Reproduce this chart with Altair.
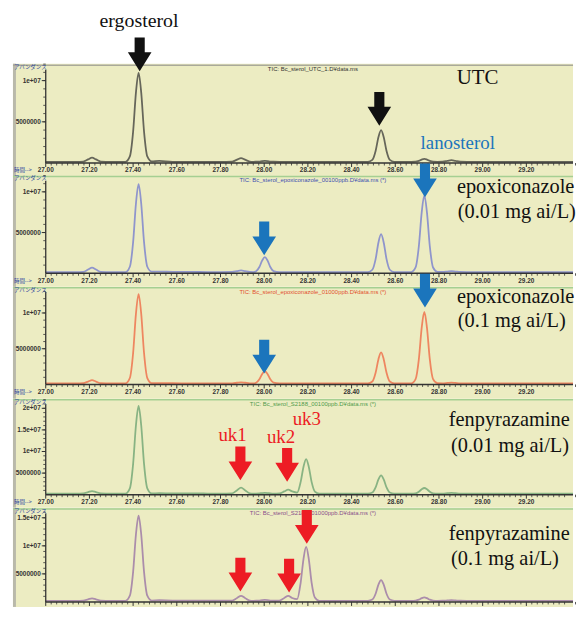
import altair as alt
import pandas as pd

# ---------------- data ----------------
# retention time (min) at which the five TIC traces were read
times = [27.00, 27.08, 27.14,
         27.172, 27.194, 27.212, 27.230, 27.252,
         27.30, 27.34,
         27.365, 27.385, 27.400, 27.413, 27.425, 27.437, 27.450, 27.465, 27.485,
         27.52, 27.58, 27.66, 27.74, 27.80,
         27.854, 27.876, 27.894, 27.912, 27.934,
         27.95,
         27.963, 27.978, 27.991, 28.003, 28.015, 28.028, 28.043,
         28.070, 28.092, 28.110, 28.128,
         28.151, 28.167, 28.180, 28.192, 28.204, 28.217, 28.232, 28.252,
         28.30, 28.38, 28.44,
         28.475, 28.495, 28.510, 28.523, 28.535, 28.547, 28.560, 28.575, 28.595,
         28.64,
         28.673, 28.693, 28.708, 28.721, 28.733, 28.745, 28.758, 28.773, 28.793,
         28.817, 28.839, 28.857, 28.875, 28.897,
         28.95, 29.05, 29.15, 29.25, 29.35, 29.44]

# abundance, millions of counts
utc = [.15, .15, .15,
       .18, .44, .65, .44, .18,
       .15, .15,
       .15, .80, 3.82, 8.57, 10.95, 8.57, 3.82, .80, .20,
       .25, .15, .15, .15, .15,
       .18, .41, .60, .41, .18,
       .15,
       .16, .18, .23, .25, .23, .18, .16,
       .15, .15, .15, .15,
       .15, .15, .15, .15, .15, .15, .15, .15,
       .15, .15, .15,
       .15, .38, 1.46, 3.15, 4.00, 3.15, 1.46, .38, .15,
       .15,
       .15, .17, .27, .42, .50, .42, .27, .17, .15,
       .16, .26, .35, .26, .16,
       .15, .15, .15, .15, .15, .15]

epoxi_001 = [.15, .15, .15,
             .18, .46, .70, .46, .18,
             .15, .15,
             .15, .80, 3.82, 8.57, 10.95, 8.57, 3.82, .80, .20,
             .20, .17, .16, .15, .15,
             .16, .26, .35, .26, .16,
             .15,
             .26, .77, 1.58, 1.98, 1.58, .77, .26,
             .15, .15, .15, .15,
             .15, .15, .15, .15, .15, .15, .15, .15,
             .15, .15, .15,
             .15, .43, 1.73, 3.78, 4.80, 3.78, 1.73, .43, .15,
             .15,
             .15, .71, 3.35, 7.48, 9.55, 7.48, 3.35, .71, .18,
             .16, .21, .25, .21, .16,
             .15, .15, .15, .15, .15, .15]

epoxi_01 = [.15, .15, .15,
            .18, .41, .60, .41, .18,
            .15, .15,
            .15, .90, 4.40, 9.90, 12.65, 9.90, 4.40, .90, .20,
            .20, .17, .16, .15, .15,
            .16, .24, .30, .24, .16,
            .15,
            .25, .73, 1.48, 1.85, 1.48, .73, .25,
            .15, .15, .15, .15,
            .15, .15, .15, .15, .15, .15, .15, .15,
            .15, .15, .15,
            .15, .41, 1.63, 3.54, 4.50, 3.54, 1.63, .41, .15,
            .15,
            .15, .75, 3.55, 7.95, 10.15, 7.95, 3.55, .75, .18,
            .16, .21, .25, .21, .16,
            .15, .15, .15, .15, .15, .15]

fenpy_001 = [.25, .25, .25,
             .29, .59, .85, .59, .29,
             .25, .25,
             .25, 1.47, 7.15, 16.08, 20.55, 16.08, 7.15, 1.47, .30,
             .35, .30, .30, .27, .27,
             .33, 1.05, 1.65, 1.05, .33,
             .25,
             .26, .30, .37, .40, .37, .30, .26,
             .30, .76, 1.15, .76,
             .50, 2.97, 6.49, 8.25, 6.49, 2.97, .73, .25,
             .25, .25, .25,
             .25, .50, 1.68, 3.53, 4.45, 3.53, 1.68, .50, .25,
             .25,
             .25, .33, .69, 1.26, 1.55, 1.26, .69, .33, .25,
             .26, .34, .40, .34, .26,
             .25, .25, .25, .25, .25, .25]

fenpy_01 = [.20, .20, .20,
            .23, .46, .65, .46, .23,
            .20, .20,
            .20, 1.11, 5.37, 12.06, 15.40, 12.06, 5.37, 1.11, .25,
            .30, .25, .25, .22, .22,
            .25, .71, 1.10, .71, .25,
            .20,
            .21, .25, .32, .35, .32, .25, .21,
            .25, .71, 1.10, .71,
            .50, 3.46, 7.69, 9.80, 7.69, 3.46, .78, .20,
            .20, .20, .20,
            .20, .42, 1.46, 3.09, 3.90, 3.09, 1.46, .42, .20,
            .20,
            .20, .24, .40, .67, .80, .67, .40, .24, .20,
            .21, .26, .30, .26, .21,
            .20, .20, .20, .20, .20, .20]

series = [utc, epoxi_001, epoxi_01, fenpy_001, fenpy_01]

tic_titles = ["TIC: Bc_sterol_UTC_1.D¥data.ms",
              "TIC: Bc_sterol_epoxiconazole_00100ppb.D¥data.ms (*)",
              "TIC: Bc_sterol_epoxiconazole_01000ppb.D¥data.ms (*)",
              "TIC: Bc_sterol_S2188_00100ppb.D¥data.ms (*)",
              "TIC: Bc_sterol_S2188_01000ppb.D¥data.ms (*)"]
tic_time = 28.223

# axis ticks and tick labels
x_major_ticks = [27.0, 27.2, 27.4, 27.6, 27.8, 28.0, 28.2, 28.4, 28.6, 28.8, 29.0, 29.2]
x_tick_labels = ["27.00", "27.20", "27.40", "27.60", "27.80", "28.00",
                 "28.20", "28.40", "28.60", "28.80", "29.00", "29.20"]
x_minor_ticks = [round(27.0 + 0.025 * i, 3) for i in range(1, 98) if i % 8]
y_major_ticks = [5e6, 1e7, 1.5e7, 2e7]
y_tick_labels = ["5000000", "1e+07", "1.5e+07", "2e+07"]
y_minor_step = 1e6

# arrows: panel, retention time, abundance (millions) of the arrow centre, colour
arrow_panel = [0, 0, 1, 1, 2, 2, 3, 3, 4, 4, 4]
arrow_time = [27.43, 28.527, 28.736, 28.0, 28.736, 28.0, 27.891, 28.105, 28.195, 27.891, 28.114]
arrow_value = [13.19, 6.57, 11.40, 4.27, 13.13, 3.89, 7.24, 6.90, 13.36, 4.87, 4.69]
arrow_color = ["#111111", "#111111", "#1b75bc", "#1b75bc", "#1b75bc", "#1b75bc",
               "#ed1c24", "#ed1c24", "#ed1c24", "#ed1c24", "#ed1c24"]

# centred labels
clabel_panel = [0, 0, 0, 3, 3, 3]
clabel_text = ["ergosterol", "UTC", "lanosterol", "uk1", "uk2", "uk3"]
clabel_time = [27.427, 28.977, 28.886, 27.855, 28.077, 28.195]
clabel_value = [17.23, 10.36, 2.41, 13.79, 13.33, 17.6]
clabel_color = ["#111111", "#111111", "#1b75bc", "#ed1c24", "#ed1c24", "#ed1c24"]
clabel_size = [20, 21, 19, 19, 19, 19]

# left-aligned treatment labels
llabel_panel = [1, 1, 2, 2, 3, 3, 4, 4]
llabel_text = ["epoxiconazole", "(0.01 mg ai/L)", "epoxiconazole", "(0.1 mg ai/L)",
               "fenpyrazamine", "(0.01 mg ai/L)", "fenpyrazamine", "(0.1 mg ai/L)"]
llabel_time = [28.882, 28.886, 28.882, 28.886, 28.845, 28.855, 28.845, 28.855]
llabel_value = [10.61, 7.56, 12.20, 8.85, 17.24, 11.26, 12.04, 7.61]

# ---------------- styling / layout ----------------
trace_colors = ["#66665a", "#8f95cc", "#ee8660", "#88b383", "#ab8dab"]
tic_colors = ["#333333", "#3c4fb0", "#e2502e", "#4f9a4a", "#8a4f8a"]
top_line_colors = ["#a9a99a", "#a5cf92", "#a5cf92", "#a5cf92", "#a5cf92"]
YELLOW = "#ececc2"
AXC = "#333333"
UI_BLUE = "#3048a0"
ARROW = "M-0.3,-1L0.3,-1L0.3,-0.12L0.7,-0.12L0,1L-0.7,-0.12L-0.3,-0.12Z"

W = 564
PX_PER_MIN = 220.0
X0 = 27.0 - 33 / PX_PER_MIN
X1 = X0 + W / PX_PER_MIN
header_h = 53
panel_h = [112, 112, 113, 110, 100]
base_px = [100, 99, 99, 97, 95]
px_per_m = [8.3, 8.2, 7.2, 4.35, 5.65]


def make_panel(k):
    ppm = px_per_m[k]
    top_m = base_px[k] / ppm
    bot_m = -(panel_h[k] - base_px[k]) / ppm
    xs = alt.Scale(domain=[X0, X1], nice=False, zero=False)
    ys = alt.Scale(domain=[bot_m * 1e6, top_m * 1e6], nice=False, zero=False)

    def XF(f):
        return alt.X(f, type="quantitative", scale=xs, axis=None)

    def YF(f):
        return alt.Y(f, type="quantitative", scale=ys, axis=None)

    def XD(v):
        return alt.XDatum(v, scale=xs, axis=None, type="quantitative")

    def YD(v):
        return alt.YDatum(v, scale=ys, axis=None, type="quantitative")

    def px(p):  # p pixels expressed in abundance units of this panel
        return p / ppm * 1e6

    trace = pd.DataFrame({"t": times, "v": [m * 1e6 for m in series[k]]})
    line = alt.Chart(trace).mark_line(color=trace_colors[k], strokeWidth=1.8,
                                      interpolate="monotone", clip=True).encode(
        x=XF("t"), y=YF("v"))

    one = pd.DataFrame({"a": [0]})
    y_rule = alt.Chart(one).mark_rule(color=AXC, strokeWidth=1.3).encode(
        x=XD(27.0), y=YD(0), y2=alt.Y2Datum(px(base_px[k] - 6)))
    x_rule = alt.Chart(one).mark_rule(color=AXC, strokeWidth=1.5).encode(
        x=XD(27.0), x2=alt.X2Datum(X1), y=YD(0))
    top_rule = alt.Chart(one).mark_rule(color=top_line_colors[k], strokeWidth=1.5).encode(
        x=XD(X0), x2=alt.X2Datum(X1), y=YD(px(base_px[k] - 1.5)))
    left_rule = alt.Chart(one).mark_rule(color="#b9b9aa", strokeWidth=3).encode(
        x=XD(X0 + 1.5 / PX_PER_MIN), y=YD(bot_m * 1e6), y2=alt.Y2Datum(top_m * 1e6))

    # x ticks
    xmaj = alt.Chart(pd.DataFrame({"t": x_major_ticks})).mark_rule(color=AXC, strokeWidth=1).encode(
        x=XF("t"), y=YD(0), y2=alt.Y2Datum(px(-4)))
    xmin = alt.Chart(pd.DataFrame({"t": x_minor_ticks})).mark_rule(color=AXC, strokeWidth=0.8).encode(
        x=XF("t"), y=YD(0), y2=alt.Y2Datum(px(-2.5)))
    # y ticks
    ymin_vals = [y_minor_step * i for i in range(1, int(top_m * 1e6 / y_minor_step) + 1)]
    ymaj_df = pd.DataFrame({"v": y_major_ticks, "lab": y_tick_labels})
    ymaj_df = ymaj_df[ymaj_df.v < top_m * 1e6 - px(3)]
    ymin_t = alt.Chart(pd.DataFrame({"v": ymin_vals})).mark_rule(color=AXC, strokeWidth=0.8).encode(
        x=XD(27.0 - 2.5 / PX_PER_MIN), x2=alt.X2Datum(27.0), y=YF("v"))
    ymaj_t = alt.Chart(ymaj_df).mark_rule(color=AXC, strokeWidth=1).encode(
        x=XD(27.0 - 4 / PX_PER_MIN), x2=alt.X2Datum(27.0), y=YF("v"))
    ylab = alt.Chart(ymaj_df).mark_text(font="Liberation Sans", fontSize=6.5, fontWeight="bold",
                                        align="right", baseline="middle", color=AXC).encode(
        x=XD(27.0 - 5 / PX_PER_MIN), y=YF("v"), text="lab:N")

    layers = [left_rule, top_rule, line, y_rule, x_rule, xmaj, xmin, ymin_t, ymaj_t, ylab]

    if k < 4:
        xlab = alt.Chart(pd.DataFrame({"t": x_major_ticks, "lab": x_tick_labels})).mark_text(
            font="Liberation Sans", fontSize=6.5, fontWeight="bold", align="center",
            baseline="middle", color=AXC).encode(
            x=XF("t"), y=YD(px(-7.5)), text="lab:N")
        layers.append(xlab)

    ui_rows = [{"t": X0 + 1 / PX_PER_MIN, "v": px(base_px[k] - 3.5), "s": "アバンダンス"}]
    if k < 4:
        ui_rows.append({"t": X0 + 1 / PX_PER_MIN, "v": px(-7.5), "s": "時間-->"})
    ui = alt.Chart(pd.DataFrame(ui_rows)).mark_text(
        font="Noto Sans CJK JP", fontSize=5.5, align="left", baseline="middle", color=UI_BLUE
    ).encode(x=XF("t"), y=YF("v"), text="s:N")

    tic = alt.Chart(pd.DataFrame({"t": [tic_time], "v": [px(base_px[k] - 5.5)],
                                  "s": [tic_titles[k]]})).mark_text(
        font="Liberation Sans", fontSize=6, align="center", baseline="middle", color=tic_colors[k]
    ).encode(x=XF("t"), y=YF("v"), text="s:N")
    layers += [ui, tic]

    arr = pd.DataFrame({"t": arrow_time, "v": [a * 1e6 for a in arrow_value],
                        "c": arrow_color, "p": arrow_panel})
    arr = arr[arr.p == k]
    if len(arr):
        layers.append(alt.Chart(arr).mark_point(shape=ARROW, size=1156, filled=True,
                                                opacity=1, strokeWidth=0).encode(
            x=XF("t"), y=YF("v"), color=alt.Color("c:N", scale=None)))

    cl = pd.DataFrame({"t": clabel_time, "v": [a * 1e6 for a in clabel_value], "s": clabel_text,
                       "c": clabel_color, "fs": clabel_size, "p": clabel_panel})
    cl = cl[cl.p == k]
    if len(cl):
        layers.append(alt.Chart(cl).mark_text(font="Liberation Serif", align="center",
                                              baseline="middle").encode(
            x=XF("t"), y=YF("v"), text="s:N", color=alt.Color("c:N", scale=None),
            size=alt.Size("fs:Q", scale=None)))

    ll = pd.DataFrame({"t": llabel_time, "v": [a * 1e6 for a in llabel_value], "s": llabel_text,
                       "p": llabel_panel})
    ll = ll[ll.p == k]
    if len(ll):
        layers.append(alt.Chart(ll).mark_text(font="Liberation Serif", fontSize=20.5, align="left",
                                              baseline="middle", color="#111111").encode(
            x=XF("t"), y=YF("v"), text="s:N"))

    return alt.layer(*layers).properties(
        width=W, height=panel_h[k],
        view=alt.ViewBackground(fill=YELLOW, strokeWidth=0))


header = alt.Chart(pd.DataFrame({"t": [27.0]})).mark_point(opacity=0).encode(
    x=alt.X("t:Q", scale=alt.Scale(domain=[X0, X1], nice=False, zero=False), axis=None)
).properties(width=W, height=header_h, view=alt.ViewBackground(fill="white", strokeWidth=0))

chart = alt.vconcat(header, *[make_panel(k) for k in range(5)], spacing=0, bounds="flush").properties(
    padding={"left": 4, "top": 0, "right": 0, "bottom": 0}, background="white"
).configure_view(strokeWidth=0)

chart.save("out.html", embed_options={"renderer": "svg", "actions": False})
